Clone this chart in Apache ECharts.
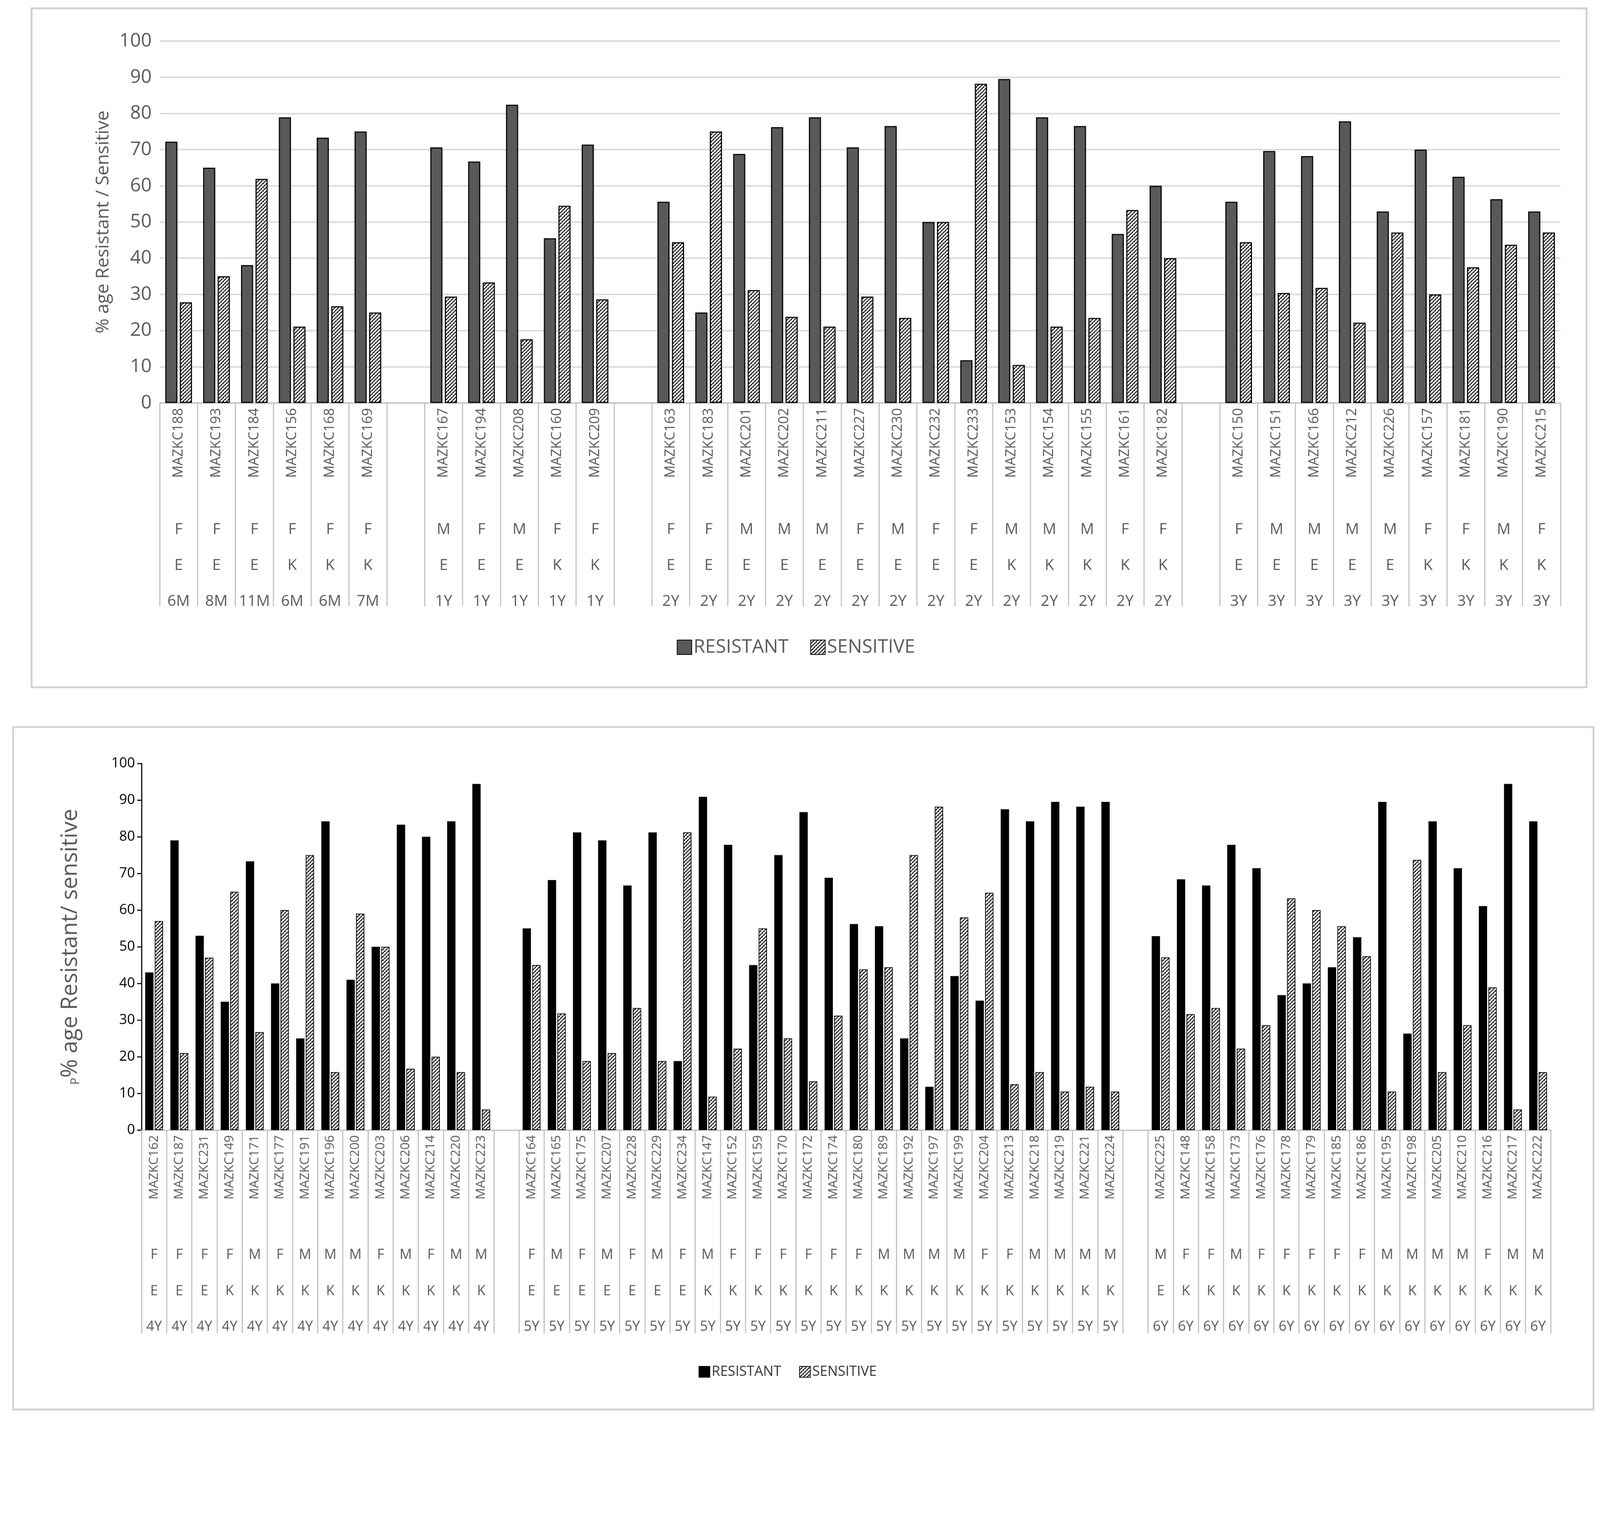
<!DOCTYPE html>
<html><head><meta charset="utf-8">
<script src="https://cdn.jsdelivr.net/npm/echarts@6/dist/echarts.min.js"></script>
<style>html,body{margin:0;padding:0;background:#fff;overflow:hidden}#c{width:4409px;height:3913px;transform-origin:0 0}</style>
</head><body><div id="c"></div>
<script>
// ---- Top chart data ('' = gap column) ----
const topIds = ['MAZKC188','MAZKC193','MAZKC184','MAZKC156','MAZKC168','MAZKC169','',
 'MAZKC167','MAZKC194','MAZKC208','MAZKC160','MAZKC209','',
 'MAZKC163','MAZKC183','MAZKC201','MAZKC202','MAZKC211','MAZKC227','MAZKC230','MAZKC232','MAZKC233','MAZKC153','MAZKC154','MAZKC155','MAZKC161','MAZKC182','',
 'MAZKC150','MAZKC151','MAZKC166','MAZKC212','MAZKC226','MAZKC157','MAZKC181','MAZKC190','MAZKC215'];
const topSex = ['F','F','F','F','F','F','', 'M','F','M','F','F','', 'F','F','M','M','M','F','M','F','F','M','M','M','F','F','', 'F','M','M','M','M','F','F','M','F'];
const topLoc = ['E','E','E','K','K','K','', 'E','E','E','K','K','', 'E','E','E','E','E','E','E','E','E','K','K','K','K','K','', 'E','E','E','E','E','K','K','K','K'];
const topAge = ['6M','8M','11M','6M','6M','7M','', '1Y','1Y','1Y','1Y','1Y','', '2Y','2Y','2Y','2Y','2Y','2Y','2Y','2Y','2Y','2Y','2Y','2Y','2Y','2Y','', '3Y','3Y','3Y','3Y','3Y','3Y','3Y','3Y','3Y'];
const topRes = [72.2,65,38.1,78.9,73.3,75,null, 70.6,66.7,82.4,45.5,71.4,null, 55.6,25,68.8,76.2,78.9,70.6,76.5,50,11.8,89.5,78.9,76.5,46.7,60,null, 55.6,69.6,68.2,77.8,52.9,70,62.5,56.3,52.9];
const topSen = [27.8,35,61.9,21.1,26.7,25,null, 29.4,33.3,17.6,54.5,28.6,null, 44.4,75,31.2,23.8,21.1,29.4,23.5,50,88.2,10.5,21.1,23.5,53.3,40,null, 44.4,30.4,31.8,22.2,47.1,30,37.5,43.7,47.1];
// ---- Bottom chart data ----
const botIds = ['MAZKC162','MAZKC187','MAZKC231','MAZKC149','MAZKC171','MAZKC177','MAZKC191','MAZKC196','MAZKC200','MAZKC203','MAZKC206','MAZKC214','MAZKC220','MAZKC223','',
 'MAZKC164','MAZKC165','MAZKC175','MAZKC207','MAZKC228','MAZKC229','MAZKC234','MAZKC147','MAZKC152','MAZKC159','MAZKC170','MAZKC172','MAZKC174','MAZKC180','MAZKC189','MAZKC192','MAZKC197','MAZKC199','MAZKC204','MAZKC213','MAZKC218','MAZKC219','MAZKC221','MAZKC224','',
 'MAZKC225','MAZKC148','MAZKC158','MAZKC173','MAZKC176','MAZKC178','MAZKC179','MAZKC185','MAZKC186','MAZKC195','MAZKC198','MAZKC205','MAZKC210','MAZKC216','MAZKC217','MAZKC222'];
const botSex = ['F','F','F','F','M','F','M','M','M','F','M','F','M','M','',
 'F','M','F','M','F','M','F','M','F','F','F','F','F','F','M','M','M','M','F','F','M','M','M','M','',
 'M','F','F','M','F','F','F','F','F','M','M','M','M','F','M','M'];
const botLoc = ['E','E','E','K','K','K','K','K','K','K','K','K','K','K','',
 'E','E','E','E','E','E','E','K','K','K','K','K','K','K','K','K','K','K','K','K','K','K','K','K','',
 'E','K','K','K','K','K','K','K','K','K','K','K','K','K','K','K'];
const botAge = ['4Y','4Y','4Y','4Y','4Y','4Y','4Y','4Y','4Y','4Y','4Y','4Y','4Y','4Y','',
 '5Y','5Y','5Y','5Y','5Y','5Y','5Y','5Y','5Y','5Y','5Y','5Y','5Y','5Y','5Y','5Y','5Y','5Y','5Y','5Y','5Y','5Y','5Y','5Y','',
 '6Y','6Y','6Y','6Y','6Y','6Y','6Y','6Y','6Y','6Y','6Y','6Y','6Y','6Y','6Y','6Y'];
const botRes = [43,79,53,35,73.3,40,25,84.2,41,50,83.3,80,84.2,94.4,null,
 55,68.2,81.2,79,66.7,81.2,18.8,90.9,77.8,45,75,86.7,68.8,56.2,55.6,25,11.8,42,35.3,87.5,84.2,89.5,88.2,89.5,null,
 52.9,68.4,66.7,77.8,71.4,36.8,40,44.4,52.6,89.5,26.3,84.2,71.4,61.1,94.4,84.2];
const botSen = [57,21,47,65,26.7,60,75,15.8,59,50,16.7,20,15.8,5.6,null,
 45,31.8,18.8,21,33.3,18.8,81.2,9.1,22.2,55,25,13.3,31.2,43.8,44.4,75,88.2,58,64.7,12.5,15.8,10.5,11.8,10.5,null,
 47.1,31.6,33.3,22.2,28.6,63.2,60,55.6,47.4,10.5,73.7,15.8,28.6,38.9,5.6,15.8];

function pattern(){
  const c=document.createElement('canvas'); c.width=10; c.height=10;
  const g=c.getContext('2d'); g.fillStyle='#fff'; g.fillRect(0,0,10,10);
  g.strokeStyle='#000'; g.lineWidth=2.2;
  g.beginPath(); g.moveTo(0,10); g.lineTo(10,0); g.moveTo(-5,5); g.lineTo(5,-5); g.moveTo(5,15); g.lineTo(15,5); g.stroke();
  g.fillStyle='#000'; g.fillRect(0,0,2,2); g.fillRect(5,5,2,2);
  return {image:c, repeat:'repeat'};
}
const pat = pattern();
const font = '"Open Sans", "Liberation Sans", Arial, sans-serif';

function xAxes(gi, ids, sex, loc, age, idSize, rowSize, offs){
  const base = {type:'category', gridIndex:gi, position:'bottom', axisLine:{show:false}, axisTick:{show:false}, axisLabel:{interval:0, color:'#595959', fontSize:rowSize, fontFamily:font, margin:0}};
  return [
    {type:'category', gridIndex:gi, data:ids, axisLine:{lineStyle:{color:'#bfbfbf', width:3}},
     axisTick:{show:true, length:offs[3], lineStyle:{color:'#bfbfbf', width:3}},
     axisLabel:{interval:0, rotate:90, fontSize:idSize, color:'#595959', fontFamily:font, margin:14}},
    Object.assign({}, base, {data:sex, offset:offs[0]}),
    Object.assign({}, base, {data:loc, offset:offs[1]}),
    Object.assign({}, base, {data:age, offset:offs[2]})
  ];
}

const el = document.getElementById('c');
const s = Math.min(window.innerWidth/4409, window.innerHeight/3913);
el.style.transform = 'scale(' + s + ')';
const chart = echarts.init(el);
chart.setOption({
  backgroundColor:'#fff',
  animation:false,
  graphic:[
    {type:'rect', shape:{x:87,y:23,width:4285,height:1870}, style:{fill:'none', stroke:'#d0d0d0', lineWidth:5}},
    {type:'rect', shape:{x:36,y:2003,width:4355,height:1880}, style:{fill:'none', stroke:'#d0d0d0', lineWidth:5}}
  ],
  grid:[
    {left:440, right:4409-4300, top:113, height:997},
    {left:390, right:4409-4273, top:2103, height:1010}
  ],
  legend:[
    {top:1752, left:1860, icon:'rect', itemWidth:40, itemHeight:40, itemGap:60, textStyle:{fontSize:52, color:'#595959', fontFamily:font}, data:['RESISTANT','SENSITIVE']},
    {top:3755, left:1920, icon:'rect', itemWidth:30, itemHeight:30, itemGap:40, textStyle:{fontSize:38, color:'#333', fontFamily:font}, data:[{name:'RESISTANT '}, {name:'SENSITIVE '}]}
  ],
  xAxis:[].concat(
    xAxes(0, topIds, topSex, topLoc, topAge, 38, 42, [328,427,526,560]),
    xAxes(1, botIds, botSex, botLoc, botAge, 35, 38, [325,425,523,560])
  ),
  yAxis:[
    {type:'value', gridIndex:0, min:0, max:100, interval:10, axisLine:{show:false}, axisTick:{show:false},
     splitLine:{lineStyle:{color:'#d9d9d9', width:4}},
     axisLabel:{fontSize:52, color:'#595959', fontFamily:font, margin:22},
     name:'% age Resistant / Sensitive', nameLocation:'middle', nameGap:130, nameTextStyle:{fontSize:50, color:'#595959', fontFamily:font}},
    {type:'value', gridIndex:1, min:0, max:100, interval:10, axisLine:{show:true, lineStyle:{color:'#000', width:3}}, axisTick:{show:true, length:12, lineStyle:{color:'#000', width:3}},
     splitLine:{show:false},
     axisLabel:{fontSize:38, color:'#000', fontFamily:font, margin:18},
     name:'{s|P}% age Resistant/ sensitive', nameLocation:'middle', nameGap:165,
     nameTextStyle:{fontSize:62, color:'#595959', fontFamily:font, rich:{s:{fontSize:32, color:'#595959', verticalAlign:'bottom', padding:[20,0,0,0]}}}}
  ],
  series:[
    {name:'RESISTANT', type:'bar', xAxisIndex:0, yAxisIndex:0, data:topRes, barWidth:'32%', barGap:'20%',
     itemStyle:{color:'#595959', borderColor:'#000', borderWidth:3}},
    {name:'SENSITIVE', type:'bar', xAxisIndex:0, yAxisIndex:0, data:topSen, barWidth:'32%', barGap:'20%',
     itemStyle:{color:pat, borderColor:'#000', borderWidth:3}},
    {name:'RESISTANT ', type:'bar', xAxisIndex:4, yAxisIndex:1, data:botRes, barWidth:'33%', barGap:'15%',
     itemStyle:{color:'#000', borderColor:'#000', borderWidth:2}},
    {name:'SENSITIVE ', type:'bar', xAxisIndex:4, yAxisIndex:1, data:botSen, barWidth:'33%', barGap:'15%',
     itemStyle:{color:pat, borderColor:'#000', borderWidth:2}}
  ]
});
</script></body></html>
